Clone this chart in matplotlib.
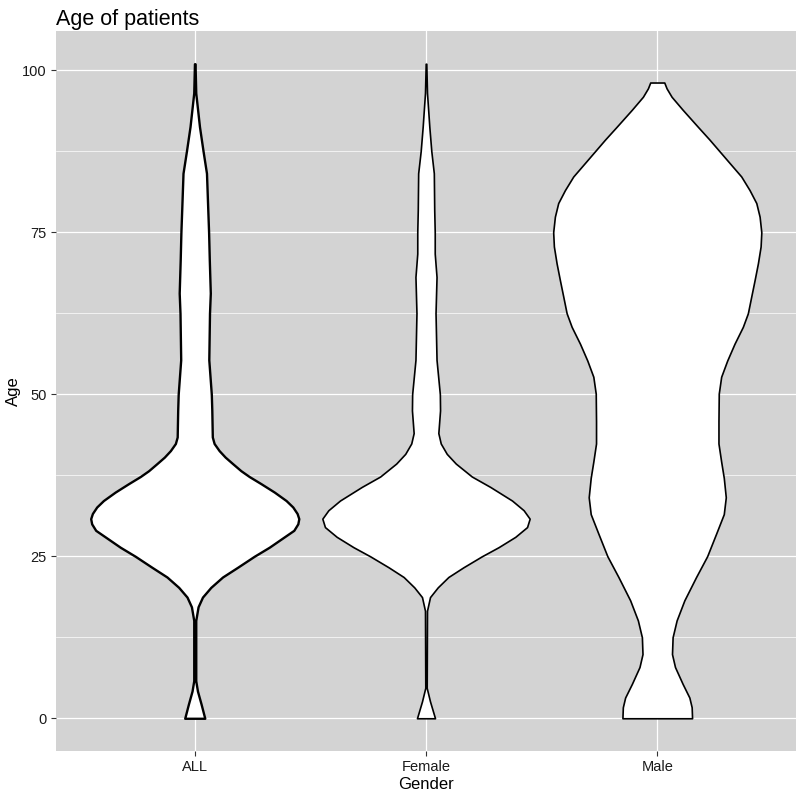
import numpy as np
import matplotlib
matplotlib.use('Agg')
import matplotlib.pyplot as plt

plt.rcParams['font.family'] = ['Liberation Sans', 'DejaVu Sans']

# groups on the x axis
groups = ['ALL', 'Female', 'Male']

# violin outlines: age and relative half-width
all_age = [0, 2.2, 4.2, 5.8, 15.1, 17.2, 18.7, 20.2, 21.8, 23.3, 25, 26.4, 28, 29, 30,
           30.8, 31.6, 32.6, 33.6, 34.9, 36.2, 37.3, 38.2, 39.3, 40.3, 41.3, 42.4, 43.4,
           47.5, 50, 55.3, 62.5, 65.6, 70.7, 75, 78.4, 84.1, 87.5, 91.3, 96.5, 101]
all_width = [10, 6.3, 2.7, 1, 1, 3.3, 7.7, 16, 27.7, 42.7, 59.3, 74.3, 89.3, 98.7, 102.7,
             103.7, 102, 97.7, 91, 79.3, 66, 54.3, 46, 37.7, 30.3, 24.3, 19.3, 17.5,
             17, 16.5, 14, 14.7, 15.5, 14.5, 13.8, 13, 11.7, 8.3, 4.7, 1, 0.3]

female_age = [0, 2.6, 4.7, 16.6, 18.7, 20.2, 21.8, 23.3, 25, 26.4, 28, 29.5, 30.8, 32.1,
              33.6, 35.7, 37.3, 39.3, 40.8, 42.4, 44, 47.5, 50, 55.3, 62.5, 68.1, 71.7,
              75, 78.4, 84.1, 87.5, 91.3, 96.5, 101]
female_width = [9, 4, 0.7, 1, 4, 11.7, 22.3, 37.3, 55.7, 72.3, 89, 100.7, 103.3, 97.3,
                85.7, 64, 45.7, 29.7, 20.7, 14.7, 12.3, 14, 13.8, 10.5, 9.5, 10.5, 8.7,
                8.7, 8.2, 7.8, 5.3, 3.3, 1, 0.3]

male_age = [0, 1.7, 3.2, 5.3, 7.9, 9.9, 12.5, 15.1, 18.2, 21.8, 25, 28.5, 31.5, 34.1,
            37.1, 39.6, 42.4, 45.8, 50.1, 52.7, 55.2, 57.8, 60.4, 62.5, 65.1, 67.6, 70.2,
            72.8, 75, 77.4, 79.5, 81.5, 83.6, 85.7, 87.5, 89.3, 91.3, 93.9, 95.9, 97.2, 98.1]
male_width = [34.7, 34.3, 32, 25.3, 17.7, 14.7, 15.3, 19.3, 27, 38.7, 49.7, 58.7, 66.3, 68.3,
              66.3, 63.7, 61, 61, 61.3, 63.7, 69.7, 77, 85.3, 90.3, 93.7, 97, 100.3,
              103, 103.7, 102, 98.7, 92, 83.7, 72, 62, 52, 40.3, 25.3, 14.3, 9.3, 7]

ages = [all_age, female_age, male_age]
widths = [all_width, female_width, male_width]
line_w = [1.7, 1.2, 1.2]

fig = plt.figure(figsize=(7.97, 7.94), dpi=100)
ax = fig.add_axes([56 / 797, 1 - 751 / 794, 740 / 797, 720 / 794])
ax.set_facecolor('#d3d3d3')

# scale so the widest violin is 0.9 wide, like ggplot
wmax = max(max(w) for w in widths)
for i, (a, w) in enumerate(zip(ages, widths)):
    half = np.array(w) / wmax * 0.45
    pos = i + 1
    ax.fill_betweenx(a, pos - half, pos + half, facecolor='white',
                     edgecolor='black', linewidth=line_w[i], joinstyle='round', zorder=3)

ax.set_xlim(0.4, 3.6)
ax.set_ylim(-5.05, 106.05)
ax.set_xticks([1, 2, 3])
ax.set_xticklabels(groups)
ax.set_yticks([0, 25, 50, 75, 100])
ax.set_yticks([12.5, 37.5, 62.5, 87.5], minor=True)

ax.grid(True, which='major', color='white', linewidth=0.9, zorder=0)
ax.grid(True, which='minor', axis='y', color='white', linewidth=0.5, zorder=0)
ax.set_axisbelow(True)
for s in ax.spines.values():
    s.set_visible(False)
ax.tick_params(which='major', length=3.5, width=0.8, color='#333333',
               labelsize=10.5, labelcolor='#1a1a1a', pad=3)
ax.tick_params(which='minor', length=0)

ax.set_xlabel('Gender', fontsize=12, labelpad=2)
ax.set_ylabel('Age', fontsize=12, labelpad=1)
ax.set_title('Age of patients', fontsize=15.5, loc='left', pad=4)

fig.savefig('out.png', dpi=100)
